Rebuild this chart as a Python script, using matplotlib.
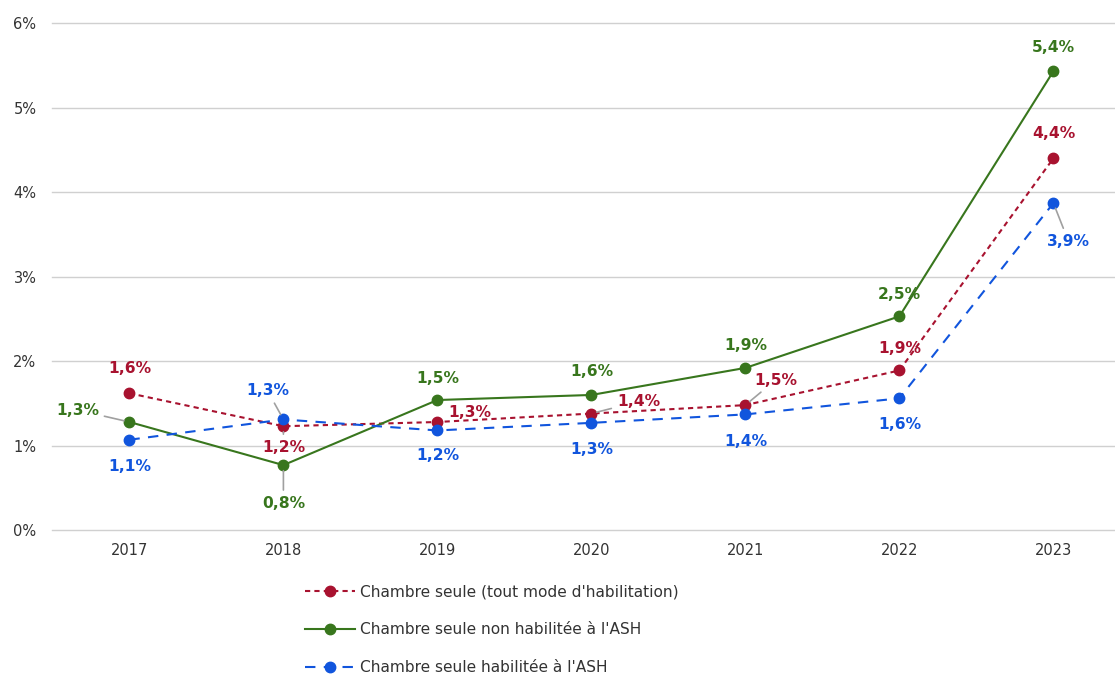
# Chambre seule : évolution 2017-2023 (courbes + étiquettes en %)
import matplotlib
matplotlib.use('Agg')
import matplotlib.pyplot as plt

plt.rcParams['font.family'] = ['DejaVu Sans']

# données
annees = ['2017', '2018', '2019', '2020', '2021', '2022', '2023']
tout_mode = [1.62, 1.23, 1.28, 1.38, 1.48, 1.89, 4.40]
non_hab = [1.28, 0.77, 1.54, 1.60, 1.92, 2.53, 5.43]
hab = [1.07, 1.31, 1.18, 1.27, 1.37, 1.56, 3.87]
noms = ["Chambre seule (tout mode d'habilitation)",
        "Chambre seule non habilitée à l'ASH",
        "Chambre seule habilitée à l'ASH"]
yticks = [0, 1, 2, 3, 4, 5, 6]

# position des étiquettes (pixels) + trait de rappel
off_rouge = [(0, 25), (0, -21), (32, 10), (47, 12), (30, 25), (0, 22), (0, 25)]
off_vert = [(-52, 12), (0, -38), (0, 22), (0, 23), (0, 22), (0, 22), (0, 24)]
off_bleu = [(0, -27), (-16, 29), (0, -25), (0, -27), (0, -27), (0, -26), (15, -38)]
lead_rouge = [False, True, False, True, True, False, False]
lead_vert = [True, True, False, False, False, False, False]
lead_bleu = [False, True, False, False, False, False, True]

c_rouge = '#a8122f'
c_vert = '#38761d'
c_bleu = '#1155dd'

fig = plt.figure(figsize=(11.15, 6.78), dpi=100)
ax = fig.add_axes([0.047, 0.218, 0.953, 0.748])

x = list(range(len(annees)))
ax.plot(x, tout_mode, color=c_rouge, lw=1.5, linestyle=(0, (2.5, 2)),
        marker='o', markersize=7.5, label=noms[0], zorder=3)
ax.plot(x, non_hab, color=c_vert, lw=1.5, linestyle='-',
        marker='o', markersize=7.5, label=noms[1], zorder=3)
ax.plot(x, hab, color=c_bleu, lw=1.5, linestyle=(0, (5, 4)),
        marker='o', markersize=7.5, label=noms[2], zorder=3)


def etiquettes(vals, offs, leads, col):
    for i, v in enumerate(vals):
        txt = ('%.1f%%' % v).replace('.', ',')
        props = None
        if leads[i]:
            props = dict(arrowstyle='-', color='#a0a0a0', lw=1.2,
                         shrinkA=2, shrinkB=4)
        ax.annotate(txt, (i, v), xytext=offs[i], textcoords='offset pixels',
                    ha='center', va='center', fontsize=11.2, fontweight='bold',
                    color=col, arrowprops=props, zorder=4)


etiquettes(tout_mode, off_rouge, lead_rouge, c_rouge)
etiquettes(non_hab, off_vert, lead_vert, c_vert)
etiquettes(hab, off_bleu, lead_bleu, c_bleu)

ax.set_xlim(-0.5, 6.4)
ax.set_ylim(0, 6)
ax.set_xticks(x)
ax.set_xticklabels(annees)
ax.set_yticks(yticks)
ax.set_yticklabels([str(t) + '%' for t in yticks])
ax.tick_params(axis='both', length=0, labelsize=10.5, colors='#333333')
ax.tick_params(axis='y', pad=11.5)
ax.tick_params(axis='x', pad=9.5)
ax.grid(axis='y', color='#d0d0d0', lw=1)
for gl in ax.get_ygridlines():
    gl.set_clip_on(False)
ax.set_axisbelow(True)
for s in ax.spines.values():
    s.set_visible(False)

ax.legend(loc='upper left', bbox_to_anchor=(0.225, -0.079), frameon=False,
          fontsize=11.1, labelspacing=1.5, handlelength=3.2, handletextpad=0.35,
          labelcolor='#333333')

fig.savefig('out.png', dpi=100)
